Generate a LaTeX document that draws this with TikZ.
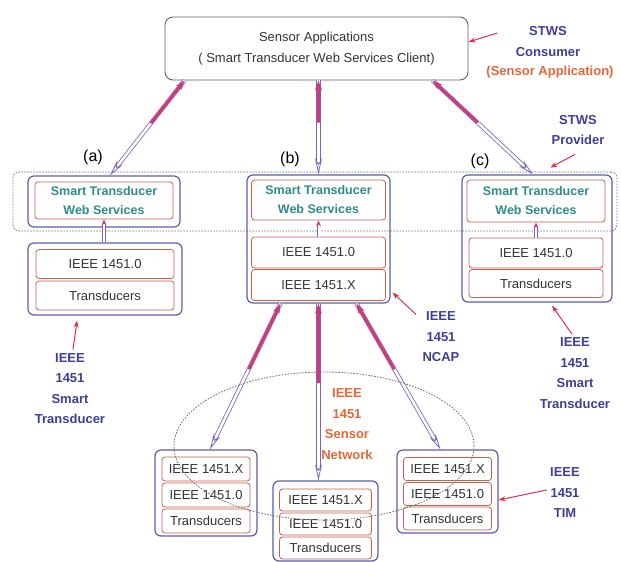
\documentclass[tikz,border=0pt]{standalone}
\usepackage{fontspec}
\setmainfont{Liberation Sans}
\usetikzlibrary{positioning,arrows.meta,calc}

\definecolor{boxblue}{HTML}{5C5CAA}
\definecolor{appgray}{HTML}{5A6070}
\definecolor{layerred}{HTML}{C8604E}
\definecolor{wsteal}{HTML}{2E8C84}
\definecolor{notenavy}{HTML}{3E3E98}
\definecolor{noteorange}{HTML}{E2683A}
\definecolor{linkviolet}{HTML}{7E62BC}
\definecolor{linkpink}{HTML}{CC3A78}
\definecolor{pointred}{HTML}{D83048}
\definecolor{zonegray}{HTML}{707070}

\tikzset{
  outerbox/.style={draw=boxblue, line width=1.2pt, rounded corners=6pt, inner sep=0pt},
  layer/.style={draw=layerred, line width=0.8pt, rounded corners=3pt, inner sep=0pt, text=black!80, font=\fontsize{13}{15}\selectfont},
  wsbox/.style={layer, text=wsteal, font=\fontsize{12.5}{19}\selectfont\bfseries, align=center},
  note/.style={text=notenavy, font=\fontsize{13}{20.5}\selectfont\bfseries, align=center},
  netnote/.style={note, text=noteorange},
  tag/.style={font=\fontsize{16}{18}\selectfont},
  zone/.style={draw=zonegray, line width=0.8pt, dash pattern=on 1.6pt off 1.4pt},
  pointer/.style={draw=pointred, line width=1pt, -{Stealth[length=7pt,width=5pt]}},
  link/.style={draw=linkviolet, line width=0.8pt, double=white, double distance=2.6pt, {Stealth[open,length=16pt,width=7pt]}-},
  linkhot/.style={draw=linkpink, line width=3pt, -{Stealth[length=10pt,width=7pt]}},
  uplink/.style={draw=linkviolet, line width=0.9pt, double=white, double distance=2pt, -{Stealth[fill=linkpink,color=linkpink,length=6pt,width=5pt]}}
}

\begin{document}
\begin{tikzpicture}[x=1pt, y=-1pt]
  \useasboundingbox (0,0) rectangle (621,562);

  \node[draw=appgray, line width=0.9pt, rounded corners=8pt, minimum width=303pt, minimum height=63pt, align=center, text=black!80, font=\fontsize{13}{21}\selectfont] (app) at (316.5,48.5) {Sensor Applications\\( Smart Transducer Web Services Client)};
  \node[zone, rounded corners=6pt, minimum width=604pt, minimum height=59pt] (zone) at (315,201.5) {};

  % (a)
  \node[outerbox, minimum width=152pt, minimum height=51pt] (wsA) at (104,201.5) {};
  \node[wsbox, minimum width=138pt, minimum height=37pt] (stwsA) at (104,200.5) {Smart Transducer\\Web Services};
  \node[outerbox, minimum width=154pt, minimum height=72pt] (tsA) at (105,279) {};
  \node[layer, minimum width=138pt, minimum height=29pt] (ieeeA) at (105,264) {IEEE 1451.0};
  \node[layer, minimum width=138pt, minimum height=29pt] (trA) at (105,295.5) {Transducers};

  % (b)
  \node[outerbox, minimum width=143pt, minimum height=128pt] (ncap) at (318.5,239) {};
  \node[wsbox, minimum width=134pt, minimum height=40pt] (stwsB) at (318.5,200) {Smart Transducer\\Web Services};
  \node[layer, minimum width=134pt, minimum height=31pt] (ieeeB) at (318.5,252.5) {IEEE 1451.0};
  \node[layer, minimum width=134pt, minimum height=31pt] (ieeeBX) at (318.5,285) {IEEE 1451.X};

  % (c)
  \node[outerbox, minimum width=150pt, minimum height=127pt] (tsC) at (537,238.5) {};
  \node[wsbox, minimum width=138pt, minimum height=42pt] (stwsC) at (536,201) {Smart Transducer\\Web Services};
  \node[layer, minimum width=134pt, minimum height=30pt] (ieeeC) at (536,253) {IEEE 1451.0};
  \node[layer, minimum width=134pt, minimum height=28pt] (trC) at (536,283.5) {Transducers};

  % TIMs
  \node[outerbox, minimum width=102pt, minimum height=86pt] (timA) at (206,493) {};
  \node[layer, minimum width=88pt, minimum height=24pt] (timAx) at (206,469) {IEEE 1451.X};
  \node[layer, minimum width=88pt, minimum height=24pt] (timA0) at (206,495) {IEEE 1451.0};
  \node[layer, minimum width=88pt, minimum height=24pt] (timAt) at (206,521) {Transducers};
  \node[outerbox, minimum width=105pt, minimum height=80pt] (timB) at (325.5,521) {};
  \node[layer, minimum width=92pt, minimum height=22pt] (timBx) at (325.5,500) {IEEE 1451.X};
  \node[layer, minimum width=92pt, minimum height=22pt] (timB0) at (325.5,524) {IEEE 1451.0};
  \node[layer, minimum width=92pt, minimum height=22pt] (timBt) at (325.5,548) {Transducers};
  \node[outerbox, minimum width=101pt, minimum height=83pt] (timC) at (447.5,491.5) {};
  \node[layer, minimum width=88pt, minimum height=23pt] (timCx) at (447.5,469) {IEEE 1451.X};
  \node[layer, minimum width=88pt, minimum height=23pt] (timC0) at (447.5,494) {IEEE 1451.0};
  \node[layer, minimum width=88pt, minimum height=23pt] (timCt) at (447.5,518.5) {Transducers};

  \node[tag] (tagA) at (93,157) {(a)};
  \node[tag] (tagB) at (290,159) {(b)};
  \node[tag] (tagC) at (480,161) {(c)};

  \node[note] (cons) at (548,41.5) {STWS\\Consumer};
  \node[netnote] (consApp) at (550,72) {(Sensor Application)};
  \node[note] (prov) at (578,130) {STWS\\Provider};
  \node[note] (lblA) at (70,388.5) {IEEE\\1451\\Smart\\Transducer};
  \node[note] (lblB) at (441,337) {IEEE\\1451\\NCAP};
  \node[note] (lblC) at (575,373) {IEEE\\1451\\Smart\\Transducer};
  \node[note] (lblT) at (565,493) {IEEE\\1451\\TIM};
  \node[netnote] (lblNet) at (347,424) {IEEE\\1451\\Sensor\\Network};

  \coordinate (aLow) at ([xshift=6pt]wsA.north);
  \coordinate (aHigh) at ([xshift=20pt]app.south west);
  \coordinate (bLow) at (ncap.north);
  \coordinate (bHigh) at (ncap.north |- app.south);
  \coordinate (cLow) at ([xshift=-4pt]tsC.north);
  \coordinate (cHigh) at ([xshift=-36pt]app.south east);
  \coordinate (xLow) at ([xshift=4pt]timA.north);
  \coordinate (xHigh) at ([xshift=-38pt]ncap.south);
  \coordinate (yLow) at (ncap.south |- timB.north);
  \coordinate (yHigh) at (ncap.south);
  \coordinate (zLow) at ([xshift=-7pt]timC.north);
  \coordinate (zHigh) at ([xshift=38pt]ncap.south);

  \foreach \lo/\hi in {aLow/aHigh, bLow/bHigh, cLow/cHigh, xLow/xHigh, yLow/yHigh, zLow/zHigh} {
    \draw[link] (\lo) -- (\hi);
    \draw[linkhot] ($(\lo)!0.55!(\hi)$) -- (\hi);
  }

  \draw[uplink] (stwsA.south |- tsA.north) -- (stwsA.south);
  \draw[uplink] (stwsB.south |- ieeeB.north) -- (stwsB.south);
  \draw[uplink] (stwsC.south |- ieeeC.north) -- (stwsC.south);

  \draw[pointer] ([xshift=-15pt,yshift=8.5pt]cons.west) -- ([yshift=6.5pt]app.east);
  \draw[pointer] ([xshift=-3pt,yshift=-6pt]prov.south) -- ([xshift=-67pt,yshift=4pt]zone.north east);
  \draw[pointer] ([xshift=3pt]lblA.north) -- ([xshift=-28pt,yshift=-5pt]tsA.south);
  \draw[pointer] ([xshift=-3pt,yshift=-6pt]lblB.north west) -- ([xshift=2pt,yshift=11pt]ncap.south east);
  \draw[pointer] ([xshift=-3pt]lblC.north) -- ([xshift=15pt,yshift=-3pt]tsC.south);
  \draw[pointer] ([yshift=3pt]lblT.west) -- ([yshift=-8.5pt]timC.east);

  \draw[zone] (324,446) ellipse [x radius=150pt, y radius=74pt];
\end{tikzpicture}
\end{document}
